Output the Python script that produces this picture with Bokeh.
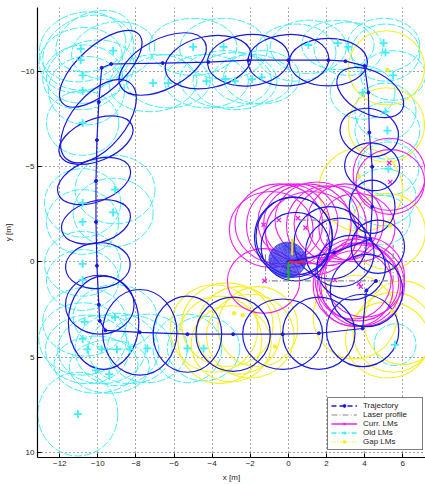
from bokeh.plotting import figure
from bokeh.models import Range1d, FixedTicker, Legend, LegendItem
from bokeh.embed import file_html
from bokeh.resources import INLINE

# ---------------- data ----------------
# trajectory (robot path) nodes
path_x = [0.0, 2.4, 4.3, 4.4, 4.4, 4.25, 4.2, 4.0, 3.0, 2.1, 0.0, -2.1, -4.2, -6.6, -9.3, -9.8,
          -9.95, -10.05, -10.1, -10.1, -10.05, -9.95, -9.9, -9.6, -7.8, -5.3, -2.9, -0.3, 1.6, 3.9, 4.1, 4.6]
path_y = [0.0, -0.5, -1.2, -2.9, -5.0, -6.8, -8.9, -10.3, -10.55, -10.6, -10.6, -10.6, -10.5, -10.45, -10.4, -10.2,
          -8.4, -6.4, -4.25, -2.1, 0.2, 2.25, 3.1, 3.6, 3.7, 3.8, 3.8, 3.8, 3.75, 3.5, 1.5, 1.0]

# pose uncertainty ellipses (center x, center y, width, height, angle deg)
pose_cx = [-9.85, -9.97, -6.6, -4.2, -2.1, 0.0, 2.1, 4.3,
           4.25, 4.4, 4.4, 4.7, 4.1,
           3.9, 1.6, -0.3, -2.9, -5.3, -7.8, -9.7,
           -9.9, -10.0, -10.1, -10.2, -10.1,
           0.27, 0.3, 0.37, 2.2, 2.7, 3.3]
pose_cy = [-10.15, -7.4, -10.4, -10.5, -10.6, -10.6, -10.5, -8.9,
           -6.8, -5.0, -2.9, -0.8, 1.5,
           3.6, 3.75, 3.8, 3.8, 3.8, 3.7, 3.2,
           2.25, 0.2, -2.1, -4.25, -6.4,
           -1.3, -1.35, -0.8, -1.0, -0.5, 0.3]
pose_w = [5.4, 5.2, 5.0, 4.6, 4.3, 4.25, 4.1, 3.8,
          3.1, 2.9, 2.4, 2.8, 3.8,
          3.8, 3.8, 4.2, 3.9, 3.6, 3.9, 3.7,
          3.6, 3.4, 3.7, 4.0, 4.1,
          4.1, 4.0, 3.6, 3.8, 3.6, 3.6]
pose_h = [2.4, 2.8, 2.6, 2.7, 2.7, 2.7, 2.5, 2.2,
          2.5, 2.5, 2.8, 2.8, 3.8,
          3.8, 3.8, 3.7, 3.9, 4.0, 4.5, 4.9,
          3.1, 2.4, 2.2, 2.2, 2.2,
          4.2, 4.1, 3.6, 3.8, 3.6, 3.4]
pose_a = [42, 50, 28, 12, 5, 3, 0, -28,
          -15, -10, 0, 0, 0,
          0, 0, 0, 0, 0, 0, 0,
          0, 5, 15, 20, 22,
          0, 0, 0, 0, 0, 0]

# initial poses: nested ellipses at the start
start_w = [0.10, 0.18, 0.26, 0.34, 0.42, 0.50, 0.58, 0.66, 0.74, 0.82, 0.90, 0.98,
           1.06, 1.14, 1.22, 1.30, 1.38, 1.46, 1.54, 1.62, 1.70, 1.78, 1.86, 1.94]
start_h = [0.10, 0.17, 0.25, 0.33, 0.41, 0.49, 0.56, 0.64, 0.72, 0.80, 0.87, 0.95,
           1.03, 1.11, 1.18, 1.26, 1.34, 1.42, 1.49, 1.57, 1.65, 1.73, 1.80, 1.88]

# old landmarks
old_x = [-10.9, -10.9, -10.8, -10.8, -9.2, -7.1, -6.3, -5.0, -4.3, -10.8, -10.8, -9.1, -10.8, -9.2,
         -3.4, -2.8, -3.3, -1.9, -1.4, 1.05, 2.6, 3.15, 5.0, 5.1, 5.5, 3.9, 5.1, 5.2, 5.25,
         -10.8, -10.8, -10.7, -9.1, -10.8, -10.55, -9.8, -9.0, -8.3, -7.4, -10.1, -9.4, -5.3, -4.45,
         -11.05, 5.6]
old_y = [-11.2, -10.6, -9.8, -9.0, -11.1, -9.4, -9.4, -11.3, -9.5, -7.3, -3.1, -3.8, -2.1, -2.6,
         -11.3, -9.5, -9.6, -9.6, -9.7, -11.4, -11.5, -11.3, -11.5, -11.0, -9.8, -8.9, -7.9, -6.9, -4.9,
         0.1, 0.95, 3.15, 2.9, 4.05, 4.6, 4.6, 4.6, 4.6, 4.55, 5.7, 5.9, 4.55, 4.55,
         8.0, 4.35]
old_ex = [-10.8, -10.5, -10.9, -10.4, -10.8, -9.2, -10.6, -10.2,
          -7.1, -6.3, -5.0, -4.3, -3.4, -2.8, -3.3, -1.9, -1.4, 1.05, 0.4, 2.6, 3.15, 5.0, 5.1, 5.5, 3.9,
          5.1, 5.2, 5.25, 5.0, 4.9,
          -10.8, -10.8, -9.1, -10.8, -9.2, -10.8, -10.8,
          -10.7, -9.1, -10.8, -10.55, -9.8, -9.0, -8.3, -7.4, -10.1, -9.4, -11.05,
          -5.3, -4.45, 5.6]
old_ey = [-11.3, -11.0, -10.6, -10.0, -9.7, -11.1, -9.0, -11.6,
          -9.4, -9.5, -11.3, -9.5, -11.2, -9.5, -9.6, -9.6, -9.7, -11.3, -11.0, -11.4, -11.2, -11.4, -11.0, -9.8, -8.9,
          -7.9, -6.9, -4.9, -3.4, -2.2,
          -7.3, -3.1, -3.8, -2.1, -2.6, 0.1, 0.95,
          3.15, 2.9, 4.05, 4.6, 4.6, 4.6, 4.6, 4.55, 5.4, 5.5, 8.0,
          4.55, 4.55, 4.35]
old_ew = [4.6, 4.9, 4.4, 4.7, 4.2, 4.4, 4.0, 4.2,
          4.6, 4.4, 4.6, 4.4, 4.6, 4.4, 4.8, 4.2, 4.0, 4.0, 4.2, 3.8, 3.6, 3.8, 3.6, 3.4, 3.4,
          3.2, 3.4, 3.2, 3.4, 3.0,
          3.8, 4.0, 4.2, 3.8, 4.2, 4.0, 3.8,
          4.4, 4.4, 4.6, 4.4, 4.6, 4.4, 4.4, 4.2, 4.4, 4.2, 4.2,
          3.6, 3.8, 2.2]
old_eh = [3.6, 3.8, 3.4, 3.2, 3.4, 3.0, 3.6, 3.0,
          3.0, 2.8, 3.0, 2.8, 3.2, 3.0, 3.0, 2.6, 2.8, 2.8, 3.0, 2.6, 2.8, 2.8, 3.0, 2.6, 2.8,
          3.0, 3.0, 2.8, 3.0, 2.6,
          3.4, 3.6, 3.6, 3.4, 3.6, 3.4, 3.2,
          3.6, 3.4, 3.8, 3.6, 3.6, 3.8, 3.6, 3.6, 3.0, 2.8, 4.4,
          3.6, 3.4, 2.2]
old_ea = [15, 20, 10, 15, 5, 10, 0, 25,
          5, 0, 0, 0, 0, 0, 0, 0, 0, 0, 0, 0, 0, 0, 0, 0, 0,
          0, 0, 0, 0, 0,
          0, 0, 0, 0, 0, 0, 0,
          0, 0, 0, 0, 0, 0, 0, 0, 0, 0, 0,
          0, 0, 0]

# current landmarks
cur_x = [-1.3, -0.5, 0.5, 0.9, -1.25, 2.45, 3.7, 3.8, 5.3, 5.35]
cur_y = [-1.95, -2.2, -2.3, -1.8, 1.0, 0.95, 1.15, 1.3, -5.2, -4.2]
cur_ex = [-0.9, -0.5, 0.0, 0.5, 1.0, 1.5, 2.0, 2.5, 3.0, 3.6, 1.2,
          3.4, 3.7, 3.9, 3.5, 4.0, 3.6, -1.3, 5.3, 5.35]
cur_ey = [-1.7, -2.0, -1.9, -2.1, -2.0, -2.2, -1.9, -2.0, -2.1, -1.8, -1.5,
          0.9, 1.1, 1.2, 1.4, 0.8, 1.2, 1.0, -4.6, -4.2]
cur_ew = [4.4, 4.6, 4.4, 4.2, 4.6, 4.4, 4.2, 4.4, 4.0, 4.0, 4.8,
          4.0, 4.2, 4.4, 4.0, 4.2, 4.6, 3.8, 3.8, 3.6]
cur_eh = [4.0, 4.2, 4.4, 4.0, 4.2, 4.0, 4.2, 4.0, 4.0, 3.6, 4.4,
          4.2, 4.0, 4.4, 4.0, 4.2, 4.4, 3.4, 3.8, 3.4]

# gap landmarks
gap_x = [-2.85, -2.4, -0.7, 5.45, 3.7, 5.2, 5.35]
gap_y = [2.7, 2.8, 4.45, 2.6, -4.5, -10.1, -1.9]
gap_ex = [-3.9, -3.2, -2.6, -2.0, -1.6, -3.6, -3.0, 3.5, 5.5, 6.0, 5.2, 5.15, 5.15, 3.8, 5.2]
gap_ey = [3.5, 3.3, 3.6, 3.9, 3.4, 4.1, 4.3, 2.9, 3.7, 3.2, 4.1, -10.2, -7.2, -3.8, -1.6]
gap_ew = [4.6, 4.8, 4.4, 4.6, 4.2, 4.4, 4.2, 4.4, 4.2, 4.0, 4.4, 4.0, 4.0, 4.4, 4.0]
gap_eh = [4.6, 4.4, 4.6, 4.4, 4.2, 4.6, 4.0, 4.4, 4.2, 4.4, 4.0, 3.9, 3.9, 4.4, 4.0]

# laser profile
laser_xs = [[-1.2, -1.2, 5.5, 5.5], [0.6, 2.6]]
laser_ys = [[-0.4, 1.0, 1.0, -0.9], [-2.2, -2.2]]

# robot frame at the start (x0, y0, x1, y1)
frame_x0 = [0.0, 0.0, 0.2]
frame_y0 = [0.0, 0.0, -0.35]
frame_x1 = [0.9, 0.0, 0.2]
frame_y1 = [0.0, 0.95, -1.2]
frame_c = ["#ff2020", "#10c010", "#f0e000"]

x_ticks = [-12, -10, -8, -6, -4, -2, 0, 2, 4, 6]
y_ticks = [-10, -5, 0, 5, 10]

BLUE = "#1818e0"
CYAN = "#40eef5"
MAGENTA = "#f020f0"
YELLOW = "#f6f020"
GRAY = "#8a8a8a"

# ---------------- figure ----------------
p = figure(width=425, height=484, output_backend="svg", toolbar_location=None,
           x_range=Range1d(-13.17, 7.2), y_range=Range1d(10.28, -13.37),
           min_border_left=37, min_border_right=0, min_border_top=7, min_border_bottom=26)
p.outline_line_color = None
p.background_fill_color = "white"

for ax in (p.xaxis[0], p.yaxis[0]):
    ax.major_label_text_font = "Liberation Sans"
    ax.major_label_text_font_size = "8px"
    ax.major_label_text_color = "#222222"
    ax.axis_label_text_font = "Liberation Sans"
    ax.axis_label_text_font_size = "8px"
    ax.axis_label_text_font_style = "normal"
    ax.axis_label_text_color = "#222222"
    ax.major_tick_in = 4
    ax.major_tick_out = 0
    ax.minor_tick_in = 0
    ax.minor_tick_out = 0
    ax.axis_line_color = "black"
    ax.axis_line_width = 1.2
    ax.major_tick_line_color = "black"
    ax.major_label_standoff = 3

p.xaxis.ticker = FixedTicker(ticks=x_ticks)
p.yaxis.ticker = FixedTicker(ticks=y_ticks)
p.xaxis.axis_label = "x [m]"
p.yaxis.axis_label = "y [m]"
p.xaxis.axis_label_standoff = 4
p.yaxis.axis_label_standoff = 5

for g in (p.xgrid[0], p.ygrid[0]):
    g.grid_line_color = "black"
    g.grid_line_alpha = 0.7
    g.grid_line_dash = "1 3"
    g.grid_line_width = 1

# old landmark ellipses
p.ellipse(x=old_ex, y=old_ey, width=old_ew, height=old_eh, angle=old_ea, angle_units="deg",
          fill_color=None, line_color=CYAN, line_width=1.0, line_dash="8 2")
# gap landmark ellipses
p.ellipse(x=gap_ex, y=gap_ey, width=gap_ew, height=gap_eh,
          fill_color=None, line_color=YELLOW, line_width=1.1)
# current landmark ellipses
p.ellipse(x=cur_ex, y=cur_ey, width=cur_ew, height=cur_eh,
          fill_color=None, line_color=MAGENTA, line_width=1.1)
# pose ellipses
p.ellipse(x=pose_cx, y=pose_cy, width=pose_w, height=pose_h, angle=pose_a, angle_units="deg",
          fill_color=None, line_color=BLUE, line_width=1.2)
p.ellipse(x=[-0.05] * len(start_w), y=[-0.1] * len(start_w), width=start_w, height=start_h,
          fill_color=None, line_color="#2a2ae8", line_width=1.0, line_alpha=0.8)

# laser profile
laser = p.multi_line(xs=laser_xs, ys=laser_ys, line_color=GRAY, line_width=1.2, line_dash="6 2 1 2")

# trajectory
p.line(path_x, path_y, line_color=BLUE, line_width=1.2)
traj_dots = p.scatter(path_x, path_y, marker="circle", size=3, color=BLUE)

# robot frame
p.segment(x0=frame_x0, y0=frame_y0, x1=frame_x1, y1=frame_y1, line_color=frame_c, line_width=2)

# landmarks
old_marks = p.scatter(old_x, old_y, marker="cross", size=8, line_color=CYAN, line_width=1.8)
cur_marks = p.scatter(cur_x, cur_y, marker="x", size=6, line_color=MAGENTA, line_width=1.3)
gap_marks = p.scatter(gap_x, gap_y, marker="circle", size=3.5, color=YELLOW)

# line styles shown in the legend only
traj_style = p.line(path_x[:2], path_y[:2], line_color=BLUE, line_width=1.5, line_dash="5 3", visible=False)
cur_style = p.line(cur_x[:2], cur_y[:2], line_color=MAGENTA, line_width=1.5, visible=False)
old_style = p.line(old_x[:2], old_y[:2], line_color=CYAN, line_width=1.5, line_dash="5 2 1 2", visible=False)
gap_style = p.line(gap_x[:2], gap_y[:2], line_color=YELLOW, line_width=1.5, line_dash="1 2", visible=False)

legend = Legend(items=[
    LegendItem(label="Trajectory", renderers=[traj_style, traj_dots]),
    LegendItem(label="Laser profile", renderers=[laser]),
    LegendItem(label="Curr. LMs", renderers=[cur_style, cur_marks]),
    LegendItem(label="Old LMs", renderers=[old_style, old_marks]),
    LegendItem(label="Gap LMs", renderers=[gap_style, gap_marks]),
], location=(290, 7))
legend.label_text_font = "Liberation Sans"
legend.label_text_font_size = "8px"
legend.label_text_color = "#222222"
legend.glyph_width = 26
legend.glyph_height = 7
legend.label_height = 7
legend.label_width = 56
legend.spacing = 0
legend.padding = 3
legend.margin = 0
legend.label_standoff = 6
legend.border_line_color = "black"
legend.border_line_width = 1.2
legend.background_fill_color = "white"
legend.background_fill_alpha = 1.0
p.add_layout(legend)

open("out.html", "w").write(file_html(p, INLINE))
